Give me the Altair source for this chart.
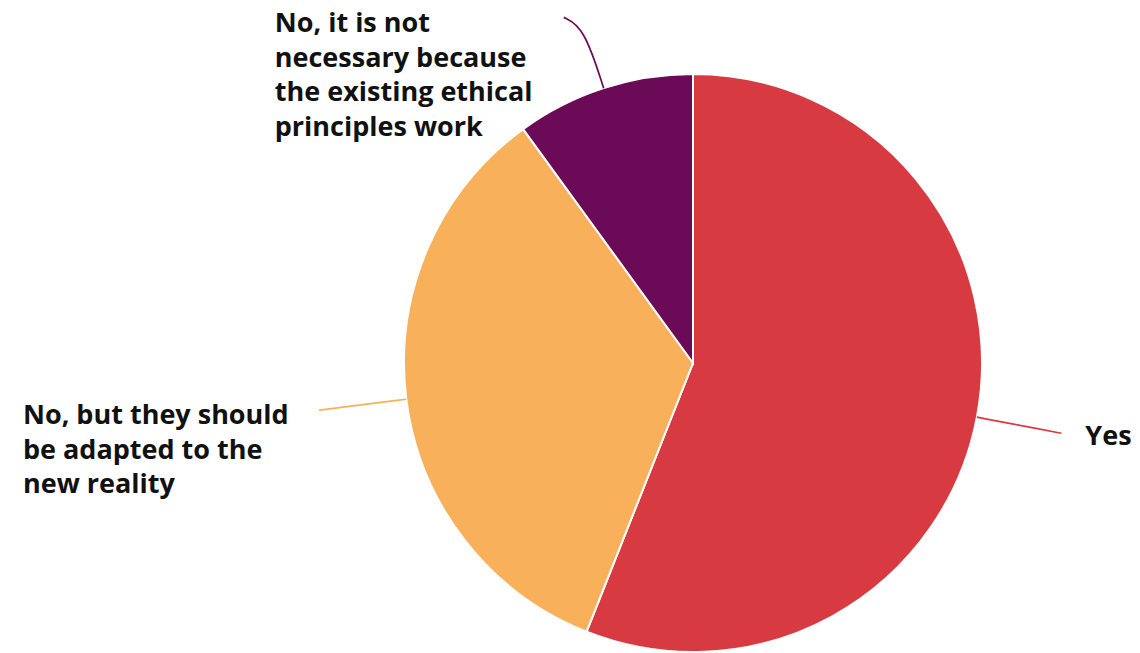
import math
import altair as alt
import pandas as pd

categories = [
    "Yes",
    "No, but they should be adapted to the new reality",
    "No, it is not necessary because the existing ethical principles work",
]
label_lines = [
    "Yes",
    "No, but they should\nbe adapted to the\nnew reality",
    "No, it is not\nnecessary because\nthe existing ethical\nprinciples work",
]
values = [56, 34, 10]
colors = ["#D73A40", "#F9B05A", "#6B0A57"]

W, H = 1140, 653
CX, CY, R = 693, 363, 289
# leader style per label: length, end-angle twist (degrees)
lead_len = [86, 88, 80]
lead_twist = [0.0, 0.0, -2.5]
# label offsets relative to the leader end (style)
label_dx = [24, -296, -289]
label_dy = [12, 14, 15]

total = sum(values)
pie_df = pd.DataFrame({"cat": categories, "value": values, "order": list(range(len(values)))})


def polar(r, a):
    return CX + r * math.sin(a), CY - r * math.cos(a)


line_rows, text_rows = [], []
cum = 0
for i, (c, v) in enumerate(zip(categories, values)):
    mid = 2 * math.pi * (cum + v / 2) / total
    cum += v
    L = lead_len[i]
    p0 = polar(R, mid)
    p1 = polar(R + 0.8 * L, mid)
    p2 = polar(R + L, mid + math.radians(lead_twist[i]))
    for k, (px, py) in enumerate([p0, p1, p2]):
        line_rows.append({"cat": c, "px": px, "py": py, "k": k})
    text_rows.append({"cat": c, "txt": label_lines[i], "px": p2[0] + label_dx[i], "py": p2[1] + label_dy[i]})

line_df = pd.DataFrame(line_rows)
text_df = pd.DataFrame(text_rows)

cscale = alt.Scale(domain=categories, range=colors)
xs = alt.Scale(domain=[0, W], range=[0, W])
ys = alt.Scale(domain=[0, H], range=[0, H])

pie = alt.Chart(pie_df).mark_arc(stroke="white", strokeWidth=2, outerRadius=R).encode(
    theta=alt.Theta("value:Q", stack=True),
    color=alt.Color("cat:N", scale=cscale, legend=None),
    order=alt.Order("order:Q"),
    x=alt.value(CX),
    y=alt.value(CY),
)

leaders = alt.Chart(line_df).mark_line(strokeWidth=1.7, interpolate="basis").encode(
    x=alt.X("px:Q", scale=xs, axis=None),
    y=alt.Y("py:Q", scale=ys, axis=None),
    color=alt.Color("cat:N", scale=cscale, legend=None),
    order="k:Q",
    detail="cat:N",
)

labels = alt.Chart(text_df).mark_text(
    align="left", baseline="alphabetic", font="Open Sans", fontWeight="bold",
    fontSize=27, lineHeight=34.5, lineBreak="\n", color="#111111",
).encode(
    x=alt.X("px:Q", scale=xs, axis=None),
    y=alt.Y("py:Q", scale=ys, axis=None),
    text="txt:N",
)

chart = alt.layer(pie, leaders, labels).properties(
    width=W, height=H, padding=0, autosize=alt.AutoSizeParams(type="none")
).configure_view(stroke=None)

chart.save("out.html", embed_options={"renderer": "svg", "actions": False})
